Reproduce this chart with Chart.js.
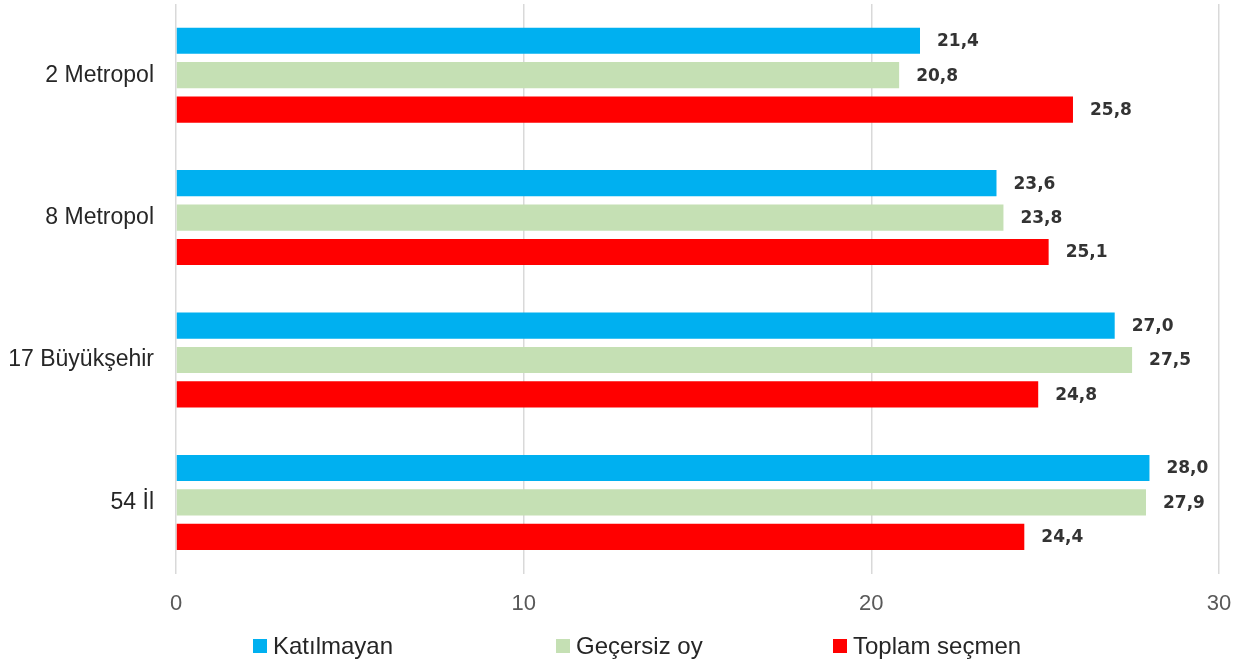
<!DOCTYPE html>
<html>
<head>
<meta charset="utf-8">
<script src="https://cdn.jsdelivr.net/npm/chart.js@4.4.0/dist/chart.umd.min.js"></script>
<style>
html,body{margin:0;padding:0;background:#fff;}
#wrap{width:1249px;height:666px;}
</style>
</head>
<body>
<div id="wrap"><canvas id="c" width="1249" height="666"></canvas></div>
<script>
const categories = ["2 Metropol", "8 Metropol", "17 Büyükşehir", "54 İl"];
const katilmayan = [21.4, 23.6, 27.0, 28.0];
const gecersizOy = [20.8, 23.8, 27.5, 27.9];
const toplamSecmen = [25.8, 25.1, 24.8, 24.4];
const seriesNames = ["Katılmayan", "Geçersiz oy", "Toplam seçmen"];
const xTicks = [0, 10, 20, 30];

const FONT = "'Liberation Sans', Arial, sans-serif";

const valueLabels = {
  id: 'valueLabels',
  afterDatasetsDraw(chart) {
    const ctx = chart.ctx;
    ctx.save();
    ctx.font = "bold 17px 'DejaVu Sans', sans-serif";
    ctx.fillStyle = '#333333';
    ctx.textAlign = 'left';
    ctx.textBaseline = 'middle';
    chart.data.datasets.forEach((ds, i) => {
      const meta = chart.getDatasetMeta(i);
      meta.data.forEach((bar, j) => {
        const txt = ds.data[j].toFixed(1).replace('.', ',');
        ctx.fillText(txt, bar.x + 17, bar.y + 1);
      });
    });
    ctx.restore();
  }
};

// custom bottom legend (layout positions only)
const legendSlots = [253, 556, 833];
const bottomLegend = {
  id: 'bottomLegend',
  afterDraw(chart) {
    const ctx = chart.ctx;
    ctx.save();
    ctx.font = "24px " + FONT;
    ctx.textAlign = 'left';
    ctx.textBaseline = 'middle';
    const cy = 646;
    chart.data.datasets.forEach((ds, i) => {
      const x = legendSlots[i];
      ctx.fillStyle = ds.backgroundColor;
      ctx.fillRect(x, cy - 7, 14, 14);
      ctx.fillStyle = '#262626';
      ctx.fillText(ds.label, x + 20, cy + 1);
    });
    ctx.restore();
  }
};

new Chart(document.getElementById('c'), {
  type: 'bar',
  data: {
    labels: categories,
    datasets: [
      { label: seriesNames[0], data: katilmayan, backgroundColor: '#00B0F0' },
      { label: seriesNames[1], data: gecersizOy, backgroundColor: '#C5E0B4' },
      { label: seriesNames[2], data: toplamSecmen, backgroundColor: '#FF0000' }
    ]
  },
  options: {
    indexAxis: 'y',
    responsive: false,
    animation: false,
    devicePixelRatio: 1,
    layout: { padding: { top: 4, right: 30, left: 0, bottom: 32 } },
    datasets: { bar: { categoryPercentage: 0.725, barPercentage: 0.76 } },
    scales: {
      x: {
        min: 0, max: 30,
        afterBuildTicks(scale) { scale.ticks = xTicks.map(v => ({ value: v })); },
        afterFit(scale) { scale.paddingLeft = 0; scale.paddingRight = 0; },
        grid: { color: '#d9d9d9', lineWidth: 1.5, drawTicks: false },
        border: { display: false },
        ticks: { color: '#595959', font: { family: FONT, size: 22 }, padding: 17 }
      },
      y: {
        afterFit(scale) { scale.width = 176; scale.paddingTop = 0; scale.paddingBottom = 0; },
        grid: { display: false, drawTicks: false },
        border: { display: false },
        ticks: { color: '#262626', font: { family: FONT, size: 23 }, padding: 22 }
      }
    },
    plugins: {
      legend: { display: false },
      tooltip: { enabled: false }
    }
  },
  plugins: [valueLabels, bottomLegend]
});
</script>
</body>
</html>
